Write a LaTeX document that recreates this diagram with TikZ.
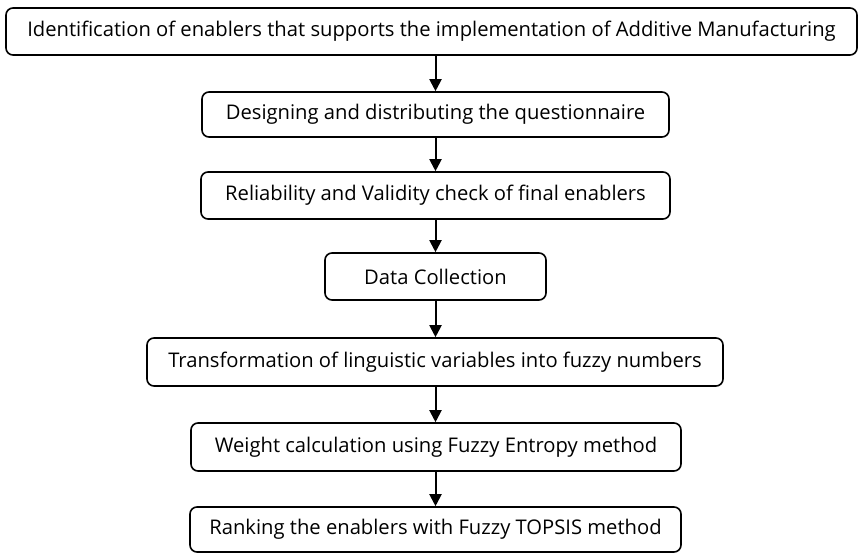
\documentclass[tikz,border=0pt]{standalone}
\usepackage{fontspec}
\setmainfont{Open Sans}
\usetikzlibrary{arrows.meta}
\begin{document}
\begin{tikzpicture}[x=1pt, y=-1pt, thick,
  stage/.style = {draw, rounded corners=7pt, line width=1.6pt, inner sep=0pt,
    font=\fontsize{20.2}{24}\selectfont},
  flow/.style = {-{Triangle[length=12pt,width=12pt]}, line width=2pt}]
\useasboundingbox (0,0) rectangle (859,553);
\node[stage, minimum width=851pt, minimum height=47pt] (1) at (431.5,31.5) {Identification of enablers that supports the implementation of Additive Manufacturing};
\node[stage, minimum width=467pt, minimum height=45pt] (2) at (435.5,114.5) {Designing and distributing the questionnaire};
\node[stage, minimum width=469pt, minimum height=47pt] (3) at (435.5,195.5) {Reliability and Validity check of final enablers};
\node[stage, minimum width=221pt, minimum height=47pt] (4) at (435.5,276.5) {Data Collection};
\node[stage, minimum width=576pt, minimum height=48pt] (5) at (435,362) {Transformation of linguistic variables into fuzzy numbers};
\node[stage, minimum width=490pt, minimum height=48pt] (6) at (436,447) {Weight calculation using Fuzzy Entropy method};
\node[stage, minimum width=491pt, minimum height=45pt] (7) at (435.5,529.5) {Ranking the enablers with Fuzzy TOPSIS method};
\draw[flow] (1.south -| 2.north) -- (2.north);
\draw[flow] (2) -- (3);
\draw[flow] (3) -- (4);
\draw[flow] (4) -- (5.north -| 4.south);
\draw[flow] (5.south -| 4.south) -- (6.north -| 4.south);
\draw[flow] (6.south -| 4.south) -- (7.north -| 4.south);
\end{tikzpicture}
\end{document}
